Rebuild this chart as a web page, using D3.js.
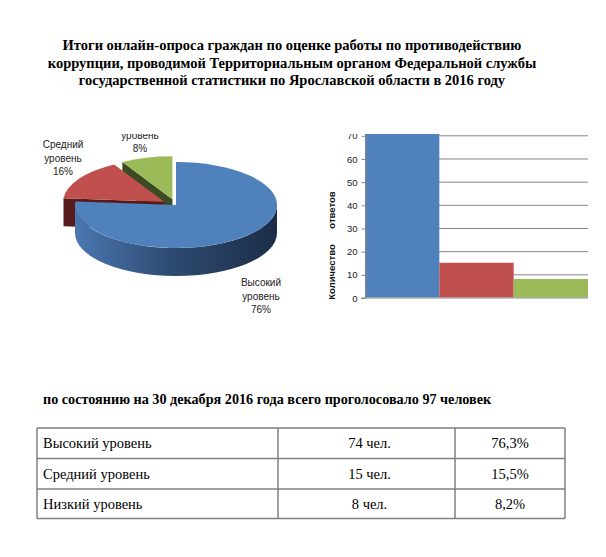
<!DOCTYPE html>
<html>
<head>
<meta charset="utf-8">
<script src="https://cdn.jsdelivr.net/npm/d3@7"></script>
<style>
  html, body { margin: 0; padding: 0; background: #fff; }
  svg { display: block; }
</style>
</head>
<body>
<svg id="chart" width="606" height="557"></svg>
<script>
// ---------------- DATA ----------------
const titleLines = [
  "Итоги онлайн-опроса граждан по оценке работы по противодействию",
  "коррупции, проводимой Территориальным органом Федеральной службы",
  "государственной статистики по Ярославской области в 2016 году"
];
const subtitle = "по состоянию на 30 декабря 2016 года всего проголосовало 97 человек";
const categories = ["Высокий уровень", "Средний уровень", "Низкий уровень"];
const counts = [74, 15, 8];
const countLabels = ["74 чел.", "15 чел.", "8 чел."];
const percentLabels = ["76,3%", "15,5%", "8,2%"];
const pieLabels = [["Высокий", "уровень", "76%"], ["Средний", "уровень", "16%"], ["Низкий", "уровень", "8%"]];
const yTicks = [0, 10, 20, 30, 40, 50, 60, 70];
const yAxisTitle = ["Количество", "ответов"];

// ---------------- SETUP ----------------
const svg = d3.select("#chart");
svg.append("rect").attr("width", 606).attr("height", 557).attr("fill", "#fff");
const defs = svg.append("defs");

const topColors = ["#4F81BD", "#C0504D", "#9BBB59"];
const faceColors = ["#2b4568", "#561c1b", "#3d4b22"];

// Title
svg.append("g").selectAll("text").data(titleLines).join("text")
  .attr("x", 292).attr("y", (d, i) => 50 + i * 17.5)
  .attr("text-anchor", "middle")
  .attr("font-family", "Liberation Serif, Times New Roman, serif")
  .attr("font-weight", "bold").attr("font-size", 14.5).attr("fill", "#000")
  .text(d => d);

// Clip for chart area
defs.append("clipPath").attr("id", "chartClip")
  .append("rect").attr("x", 0).attr("y", 134).attr("width", 606).attr("height", 200);
const chartG = svg.append("g").attr("clip-path", "url(#chartClip)");

// ---------------- 3D PIE ----------------
const cx = 176, cy = 205, rx = 101, ry = 43, depth = 28, explode = 14;
const arcs = d3.pie().sort(null).value(d => d)(counts);

const grad = defs.append("linearGradient").attr("id", "blueSide")
  .attr("gradientUnits", "userSpaceOnUse").attr("x1", cx - rx).attr("x2", cx + rx).attr("y1", 0).attr("y2", 0);
grad.append("stop").attr("offset", "0%").attr("stop-color", "#4b78b1");
grad.append("stop").attr("offset", "45%").attr("stop-color", "#2f4c74");
grad.append("stop").attr("offset", "100%").attr("stop-color", "#1c2d47");

function pt(a, o) { return [cx + o[0] + rx * Math.sin(a), cy + o[1] - ry * Math.cos(a)]; }

const slices = arcs.map((a, i) => {
  const mid = (a.startAngle + a.endAngle) / 2;
  const k = i === 0 ? 0 : explode;
  return { a, i, o: [k * Math.sin(mid), -k * Math.cos(mid) * ry / rx] };
});

const pieG = chartG.append("g");
// draw back to front: low, middle, high
[2, 1, 0].forEach(idx => {
  const s = slices[idx];
  const a0 = s.a.startAngle, a1 = s.a.endAngle, o = s.o;
  const apex = [cx + o[0], cy + o[1]];
  // start radial face (visible when facing front)
  const n = a0 - Math.PI / 2;
  if (Math.cos(n) < -0.01) {
    const p = pt(a0, o);
    pieG.append("path")
      .attr("d", `M${apex}L${p}L${p[0]},${p[1] + depth}L${apex[0]},${apex[1] + depth}Z`)
      .attr("fill", faceColors[idx]);
  }
  // outer wall (front half)
  const wa = Math.max(a0, Math.PI / 2), wb = Math.min(a1, 3 * Math.PI / 2);
  if (wa < wb) {
    const p = pt(wa, o), q = pt(wb, o);
    pieG.append("path")
      .attr("d", `M${p}A${rx},${ry} 0 0 1 ${q}L${q[0]},${q[1] + depth}A${rx},${ry} 0 0 0 ${p[0]},${p[1] + depth}Z`)
      .attr("fill", idx === 0 ? "url(#blueSide)" : faceColors[idx]);
  }
  // top face
  const p0 = pt(a0, o), p1 = pt(a1, o);
  const large = (a1 - a0) > Math.PI ? 1 : 0;
  pieG.append("path")
    .attr("d", `M${apex}L${p0}A${rx},${ry} 0 ${large} 1 ${p1}Z`)
    .attr("fill", topColors[idx]);
});

// pie labels
const pieLabelPos = [[261, 286], [63, 148], [140, 125]];
const lblG = chartG.append("g").attr("font-family", "Liberation Sans, Arial, sans-serif")
  .attr("font-size", 10).attr("fill", "#222").attr("text-anchor", "middle");
pieLabels.forEach((lines, i) => {
  lblG.append("text").selectAll("tspan").data(lines).join("tspan")
    .attr("x", pieLabelPos[i][0]).attr("y", (d, j) => pieLabelPos[i][1] + j * 13.5)
    .text(d => d);
});

// ---------------- BAR CHART ----------------
const x = d3.scaleBand().domain(categories).range([365, 588]).padding(0);
const y = d3.scaleLinear().domain([0, 70]).range([297.5, 135.3]);
const barG = chartG.append("g");

// gridlines
barG.append("g").selectAll("line").data(yTicks.filter(t => t > 0)).join("line")
  .attr("x1", 365).attr("x2", 588).attr("y1", d => y(d) + 0.5).attr("y2", d => y(d) + 0.5)
  .attr("stroke", "#868686").attr("stroke-width", 1);

// bars
barG.append("g").selectAll("rect").data(counts).join("rect")
  .attr("x", (d, i) => x(categories[i])).attr("width", x.bandwidth())
  .attr("y", d => y(d)).attr("height", d => y(0) - y(d))
  .attr("fill", (d, i) => topColors[i]);

// baseline
barG.append("line").attr("x1", 361).attr("x2", 588).attr("y1", y(0) + 0.5).attr("y2", y(0) + 0.5)
  .attr("stroke", "#868686");

// axis
const axis = barG.append("g").attr("transform", "translate(365.5,0.5)")
  .call(d3.axisLeft(y).tickValues(yTicks).tickSize(4).tickSizeOuter(0).tickPadding(4));
axis.select(".domain").attr("stroke", "#868686");
axis.selectAll(".tick line").attr("stroke", "#868686");
axis.selectAll(".tick text").attr("font-family", "Liberation Sans, Arial, sans-serif")
  .attr("font-size", 9.5).attr("fill", "#222");

// y axis title
const yt = barG.append("g").attr("font-family", "Liberation Sans, Arial, sans-serif")
  .attr("font-weight", "bold").attr("font-size", 9.5).attr("fill", "#111").attr("text-anchor", "middle");
yt.append("text").attr("transform", "translate(335,272) rotate(-90)").text(yAxisTitle[0]);
yt.append("text").attr("transform", "translate(335,210) rotate(-90)").text(yAxisTitle[1]);

// ---------------- SUBTITLE & TABLE ----------------
svg.append("text").attr("x", 43).attr("y", 404)
  .attr("font-family", "Liberation Serif, Times New Roman, serif")
  .attr("font-weight", "bold").attr("font-size", 14.2).attr("fill", "#000")
  .text(subtitle);

const colX = [37, 278, 455, 565];
const rowY = [428, 458.5, 489, 518.5];
const tbl = svg.append("g");
const rows = tbl.selectAll("g.row").data(categories).join("g").attr("class", "row");
const textStyle = sel => sel.attr("font-family", "Liberation Serif, Times New Roman, serif")
  .attr("font-size", 14.5).attr("fill", "#000");
rows.append("text").call(textStyle).attr("x", 43).attr("y", (d, i) => (rowY[i] + rowY[i + 1]) / 2 + 5).text(d => d);
rows.append("text").call(textStyle).attr("text-anchor", "middle").attr("x", (colX[1] + colX[2]) / 2 + 3)
  .attr("y", (d, i) => (rowY[i] + rowY[i + 1]) / 2 + 5).text((d, i) => countLabels[i]);
rows.append("text").call(textStyle).attr("text-anchor", "middle").attr("x", (colX[2] + colX[3]) / 2)
  .attr("y", (d, i) => (rowY[i] + rowY[i + 1]) / 2 + 5).text((d, i) => percentLabels[i]);

// grid lines of table
tbl.append("g").selectAll("line").data(rowY).join("line")
  .attr("x1", colX[0]).attr("x2", colX[3]).attr("y1", d => d).attr("y2", d => d)
  .attr("stroke", "#808080").attr("stroke-width", 1.5);
tbl.append("g").selectAll("line").data(colX).join("line")
  .attr("x1", d => d).attr("x2", d => d).attr("y1", rowY[0]).attr("y2", rowY[3])
  .attr("stroke", "#808080").attr("stroke-width", 1.5);
</script>
</body>
</html>
